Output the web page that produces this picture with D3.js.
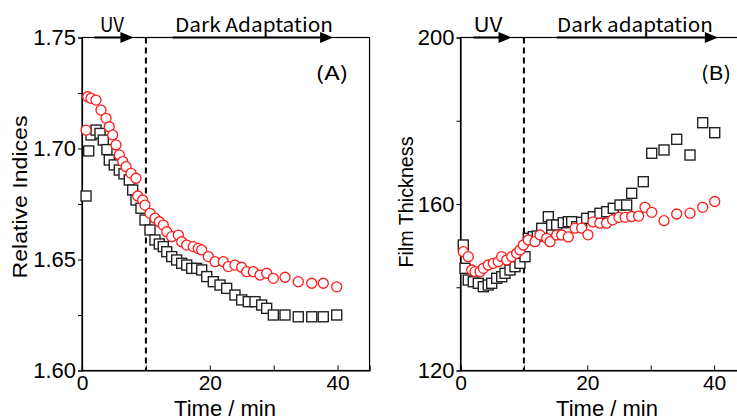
<!DOCTYPE html>
<html><head><meta charset="utf-8">
<script src="https://cdn.jsdelivr.net/npm/d3@7"></script>
<style>html,body{margin:0;padding:0;background:#fff;overflow:hidden}</style>
</head><body>
<svg id="chart" width="737" height="418"></svg>
<script>
// ---- Panel A: relative indices ----
const tA_black = [0.63,1.05,1.41,2.19,2.82,3.33,3.9,4.27,5.05,5.84,6.57,7.4,7.93,8.45,9.23,9.86,10.64,11.42,12.1,12.72,13.26,14.04,14.82,15.6,16.39,17.17,17.95,18.73,19.52,20.55,21.6,22.64,23.94,24.99,26.02,27.07,28.12,28.9,29.94,31.77,33.85,35.95,37.76,39.86];
const vA_black = [1.6786,1.6989,1.7061,1.7083,1.7068,1.7038,1.6995,1.6948,1.6926,1.6903,1.6886,1.6858,1.6813,1.6768,1.6731,1.6678,1.6633,1.6588,1.657,1.6558,1.6535,1.6513,1.6498,1.6483,1.6475,1.646,1.646,1.6453,1.6423,1.64,1.6385,1.637,1.634,1.6318,1.631,1.631,1.6295,1.628,1.625,1.625,1.6242,1.6242,1.6242,1.625];
const tA_red = [0.63,0.89,1.41,2.19,2.97,3.76,4.27,4.8,5.32,5.84,6.37,6.89,7.67,8.45,8.72,9.5,9.86,10.64,11.42,12.1,12.72,13.26,14.04,15.07,15.6,16.39,17.42,18.2,18.73,19.77,20.81,22.11,22.9,23.94,24.99,25.77,26.81,27.86,28.9,29.94,31.77,33.85,35.95,37.76,39.86];
const vA_red = [1.7083,1.7233,1.7226,1.7218,1.7173,1.7136,1.7098,1.7061,1.7016,1.6971,1.6941,1.6918,1.6888,1.6866,1.6786,1.6768,1.6745,1.6708,1.6686,1.667,1.6655,1.6625,1.6603,1.661,1.658,1.6565,1.6558,1.655,1.6543,1.6513,1.649,1.649,1.6468,1.6475,1.6465,1.6445,1.6445,1.643,1.6438,1.6415,1.642,1.64,1.6393,1.6393,1.6377];
// ---- Panel B: film thickness ----
const tB_black = [0.44,0.71,1.23,2.02,2.81,3.6,4.38,4.92,5.71,6.5,7.02,7.81,8.6,9.38,10.17,10.69,11.48,12.1,12.81,13.85,14.38,15.17,16.21,17.0,17.54,18.33,19.1,19.9,20.95,22.0,23.06,24.1,25.16,26.21,27.0,28.83,30.16,32.1,34.1,36.2,38.2,40.1];
const vB_black = [150.15,144.55,141.74,141.33,140.95,140.13,140.54,140.95,142.15,142.53,143.35,144.14,144.94,145.75,147.34,151.76,152.14,152.3,154.16,156.95,154.95,154.95,155.5,155.75,155.75,154.55,155.6,156.56,156.95,157.77,158.15,158.97,159.76,159.76,162.57,165.36,172.18,172.98,175.54,171.76,179.53,177.13];
const tB_red = [0.44,1.23,1.77,2.29,3.08,3.6,4.38,5.17,5.96,6.5,7.29,8.08,8.86,9.38,9.91,10.69,11.75,12.54,13.6,14.12,15.17,15.96,17.0,18.06,19.1,20.1,20.9,21.98,23.04,24.0,25.0,25.96,27.0,28.1,29.1,30.16,32.1,34.1,36.2,38.2,40.1];
const vB_red = [148.54,147.34,144.14,143.74,143.74,144.55,145.35,145.75,146.14,147.34,146.55,147.34,148.16,148.95,150.15,151.35,150.94,152.55,151.76,150.94,152.55,152.55,152.1,154.2,154.2,152.6,155.7,155.4,155.4,156.2,156.8,156.8,157.0,157.1,159.2,158.0,156.0,157.6,157.8,159.2,160.6];
// ---- axes / annotation values ----
const xDomain = [0, 45];
const xMajor = [0, 20, 40];
const xMinor = [10, 30];
const yDomainA = [1.60, 1.75];
const yMajorA = [1.60, 1.65, 1.70, 1.75];
const yMinorA = [1.625, 1.675, 1.725];
const yDomainB = [120, 200];
const yMajorB = [120, 160, 200];
const yMinorB = [140, 180];
const uvEnd = 10;
const uvArrow = [2, 8.05];
const darkArrowA = [14.2, 39.3];
const darkArrowB = [15.2, 40.6];
const labelsA = {y: "Relative Indices", x: "Time / min", uv: "UV", dark: "Dark Adaptation", tag: "(A)"};
const labelsB = {y: "Film Thickness", x: "Time / min", uv: "UV", dark: "Dark adaptation", tag: "(B)"};

const svg = d3.select("#chart");
const tickFont = "'Liberation Sans Narrow', 'Liberation Sans', Arial, sans-serif";
const jpFont = "'Noto Sans CJK JP', 'Noto Sans', sans-serif";

function panel(cfg) {
  const x = d3.scaleLinear().domain(xDomain).range([cfg.x0, cfg.x0 + 45 * cfg.pxPerMin]);
  const y = d3.scaleLinear().domain(cfg.yDomain).range([370.5, 37.5]);
  const g = svg.append("g");
  const [xl, xr] = x.range();
  const [yb, yt] = y.range();

  // frame
  g.append("rect").attr("x", xl).attr("y", yt).attr("width", xr - xl).attr("height", yb - yt)
    .attr("fill", "none").attr("stroke", "#000").attr("stroke-width", 1.2);

  // x axis (inward ticks)
  const xa = g.append("g").attr("transform", `translate(0,${yb})`)
    .call(d3.axisBottom(x).tickValues(xMajor.concat(xMinor)).tickSize(-5).tickPadding(5)
      .tickFormat(d => xMajor.includes(d) ? d3.format("d")(d) : ""));
  xa.select(".domain").attr("stroke", "#000").attr("stroke-width", 1.2);
  xa.selectAll("line").attr("stroke", "#000");
  xa.selectAll("text").attr("font-family", tickFont).attr("font-size", 21).attr("fill", "#000");

  // y axis (outward ticks)
  const ya = g.append("g").attr("transform", `translate(${xl},0)`)
    .call(d3.axisLeft(y).tickValues(cfg.yMajor.concat(cfg.yMinor)).tickSize(4).tickPadding(2)
      .tickFormat(d => cfg.yMajor.some(m => Math.abs(m - d) < 1e-9) ? cfg.fmt(d) : ""));
  ya.select(".domain").attr("stroke", "#000").attr("stroke-width", 1.2);
  ya.selectAll("line").attr("stroke", "#000");
  ya.selectAll("text").attr("font-family", tickFont).attr("font-size", 22).attr("fill", "#000");

  // dashed UV end line
  g.append("line").attr("x1", x(uvEnd)).attr("x2", x(uvEnd)).attr("y1", yt).attr("y2", yb)
    .attr("stroke", "#000").attr("stroke-width", 2).attr("stroke-dasharray", "6,4");

  // arrows on top edge
  function arrow(a, b) {
    const x1 = x(a), x2 = x(b);
    g.append("line").attr("x1", x1).attr("x2", x2 - 10).attr("y1", yt).attr("y2", yt)
      .attr("stroke", "#000").attr("stroke-width", 2);
    g.append("path").attr("d", `M${x2},${yt} L${x2 - 13},${yt - 5.5} L${x2 - 13},${yt + 5.5} Z`).attr("fill", "#000");
  }
  arrow(uvArrow[0], uvArrow[1]);
  arrow(cfg.dark[0], cfg.dark[1]);

  // top texts
  g.append("text").attr("x", cfg.uvX).attr("y", 32).attr("text-anchor", "middle")
    .attr("font-family", jpFont).attr("font-size", 20).attr("textLength", cfg.uvW).attr("lengthAdjust", "spacingAndGlyphs")
    .text(cfg.labels.uv);
  g.append("text").attr("x", cfg.darkX).attr("y", 32).attr("text-anchor", "middle")
    .attr("font-family", jpFont).attr("font-size", 19).attr("textLength", cfg.darkW).attr("lengthAdjust", "spacingAndGlyphs")
    .text(cfg.labels.dark);
  g.append("text").attr("x", cfg.tagX).attr("y", 80).attr("text-anchor", "middle")
    .attr("font-family", jpFont).attr("font-size", 19).attr("textLength", cfg.tagW).attr("lengthAdjust", "spacingAndGlyphs")
    .text(cfg.labels.tag);

  // axis titles
  g.append("text").attr("x", cfg.xTitleX).attr("y", 416).attr("text-anchor", "middle")
    .attr("font-family", tickFont).attr("font-size", 22).text(cfg.labels.x);
  g.append("text").attr("transform", `translate(${cfg.yTitleX},${cfg.yTitleY}) rotate(-90)`)
    .attr("text-anchor", "middle").attr("font-family", "'Liberation Sans', Arial, sans-serif").attr("font-size", 20)
    .attr("textLength", cfg.yTitleW).attr("lengthAdjust", "spacingAndGlyphs").text(cfg.labels.y);

  // data: black squares then red circles
  const s = 10;
  g.append("g").selectAll("rect").data(d3.zip(cfg.tBlack, cfg.vBlack)).join("rect")
    .attr("x", d => x(d[0]) - s / 2).attr("y", d => y(d[1]) - s / 2).attr("width", s).attr("height", s)
    .attr("fill", "#fff").attr("stroke", "#222").attr("stroke-width", 1.4);
  g.append("g").selectAll("circle").data(d3.zip(cfg.tRed, cfg.vRed)).join("circle")
    .attr("cx", d => x(d[0])).attr("cy", d => y(d[1])).attr("r", 5)
    .attr("fill", "#fff").attr("stroke", "#ff1a1a").attr("stroke-width", 1.3);
}

panel({x0: 82, pxPerMin: 6.39, yDomain: yDomainA, yMajor: yMajorA, yMinor: yMinorA, fmt: d3.format(".2f"),
  tBlack: tA_black, vBlack: vA_black, tRed: tA_red, vRed: vA_red, dark: darkArrowA, labels: labelsA,
  uvX: 112, uvW: 24, darkX: 254, darkW: 158, tagX: 332, tagW: 33, xTitleX: 225, yTitleX: 27, yTitleY: 197, yTitleW: 163});
panel({x0: 460.5, pxPerMin: 6.34, yDomain: yDomainB, yMajor: yMajorB, yMinor: yMinorB, fmt: d3.format("d"),
  tBlack: tB_black, vBlack: vB_black, tRed: tB_red, vRed: vB_red, dark: darkArrowB, labels: labelsB,
  uvX: 488, uvW: 29, darkX: 635, darkW: 156, tagX: 716, tagW: 30, xTitleX: 607, yTitleX: 413, yTitleY: 202, yTitleW: 131});
</script>
</body></html>
